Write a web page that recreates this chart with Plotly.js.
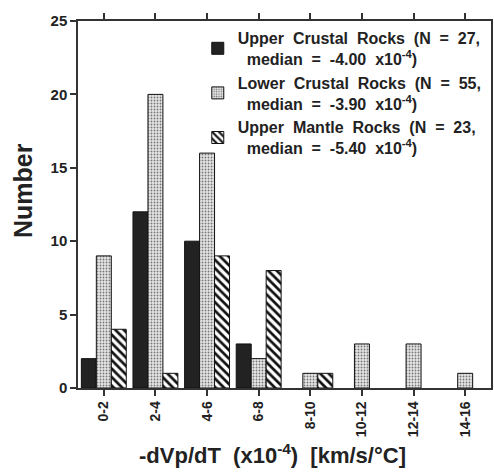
<!DOCTYPE html>
<html><head><meta charset="utf-8">
<script src="https://cdn.plot.ly/plotly-3.0.1.min.js"></script>
<style>body{margin:0;background:#fff}</style>
</head><body><div id="chart" style="width:494px;height:473px"></div>
<script>
const categories = ['0-2','2-4','4-6','6-8','8-10','10-12','12-14','14-16'];
const upperCrustal = [2, 12, 10, 3, 0, 0, 0, 0];
const lowerCrustal = [9, 20, 16, 2, 1, 3, 3, 1];
const upperMantle = [4, 1, 9, 8, 1, 0, 0, 0];
const names = [
  'Upper  Crustal  Rocks  (N  =  27,<br>  median  =  -4.00  x10<sup>-4</sup>)',
  'Lower  Crustal  Rocks  (N  =  55,<br>  median  =  -3.90  x10<sup>-4</sup>)',
  'Upper  Mantle  Rocks  (N  =  23,<br>  median  =  -5.40  x10<sup>-4</sup>)'
];
const xTitle = '-dVp/dT  (x10<sup>-4</sup>)  [km/s/°C]';
const yTitle = 'Number';
const F = 'Liberation Sans, Arial, sans-serif';
const nz = a => a.map(v => v === 0 ? null : v);
const traces = [
  {type:'bar', x:categories, y:nz(upperCrustal), name:names[0],
   marker:{color:'#222', line:{color:'#111', width:1}}},
  {type:'bar', x:categories, y:nz(lowerCrustal), name:names[1],
   marker:{color:'#ddd', line:{color:'#111', width:1},
     pattern:{shape:'.', fgcolor:'#777', bgcolor:'#e6e6e6', size:3, solidity:0.3}}},
  {type:'bar', x:categories, y:nz(upperMantle), name:names[2],
   marker:{color:'#fff', line:{color:'#111', width:1},
     pattern:{shape:'\\', fgcolor:'#111', bgcolor:'#fff', size:6, solidity:0.45}}}
];
const layout = {
  width:494, height:473,
  margin:{l:78, r:3, t:21, b:85},
  paper_bgcolor:'#fff', plot_bgcolor:'#fff',
  barmode:'group', bargap:0.13, bargroupgap:0,
  showlegend:true,
  legend:{x:0.29, y:1.0, xanchor:'left', yanchor:'top', bgcolor:'rgba(0,0,0,0)',
    font:{family:F, size:16, color:'#222', weight:'bold'}, tracegroupgap:0, itemwidth:30},
  xaxis:{type:'category', range:[-0.5,7.5], showline:true, linecolor:'#333', linewidth:1.5,
    mirror:'ticks', ticks:'outside', ticklen:6, tickcolor:'#333', tickwidth:1.5,
    tickangle:-90, tickfont:{family:F, size:14, color:'#222', weight:'bold'},
    showgrid:false, zeroline:false},
  yaxis:{range:[0,25], dtick:5, showline:true, linecolor:'#333', linewidth:1.5, mirror:true,
    ticks:'outside', ticklen:6, tickcolor:'#333', tickwidth:1.5,
    tickfont:{family:F, size:15, color:'#222', weight:'bold'},
    showgrid:false, zeroline:false},
  annotations:[
    {text:xTitle, xref:'paper', yref:'paper', x:0.47, y:-0.18, xanchor:'center', yanchor:'middle',
     showarrow:false, font:{family:F, size:22, color:'#222', weight:'bold'}},
    {text:yTitle, xref:'paper', yref:'paper', x:-0.133, y:0.537, xanchor:'center', yanchor:'middle',
     textangle:-90, showarrow:false, font:{family:F, size:25, color:'#222', weight:'bold'}}
  ]
};
Plotly.newPlot('chart', traces, layout, {displayModeBar:false});
</script></body></html>
